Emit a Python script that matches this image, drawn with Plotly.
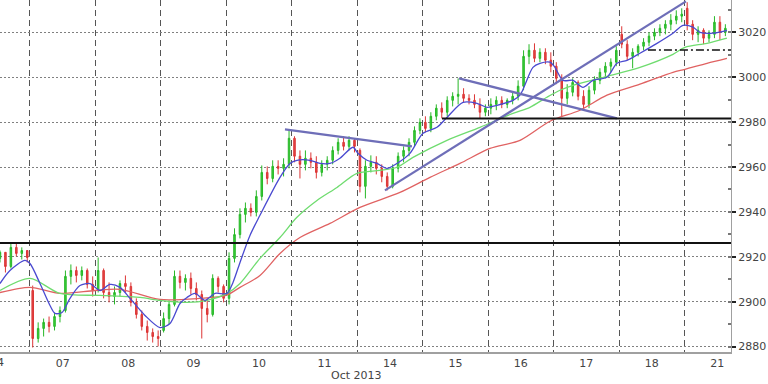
import numpy as np
import plotly.graph_objects as go

# ---------------- data ----------------
days = ["04", "07", "08", "09", "10", "11", "14", "15", "16", "17", "18", "21"]
BARS_PER_DAY = 12
first_bar_offset = 0.5  # first visible bar starts half way through Oct 04

open_ = [2919.3, 2922.0, 2915.7, 2924.2, 2921.5, 2922.8,
 2905.0, 2883.6, 2888.1, 2890.8, 2889.0, 2893.4, 2896.1, 2911.3, 2913.9, 2911.7, 2913.9, 2907.7,
 2905.0, 2913.9, 2904.1, 2902.3, 2904.1, 2908.1, 2906.8, 2899.7, 2894.3, 2889.0, 2886.3, 2884.5,
 2887.2, 2892.5, 2898.8, 2911.3, 2908.6, 2910.4, 2905.9, 2903.2, 2897.0, 2894.3, 2910.4, 2906.8,
 2901.5, 2919.3, 2929.9, 2938.9, 2941.6, 2939.8, 2946.9, 2957.6, 2954.9, 2960.3, 2959.4, 2961.2,
 2972.8, 2964.8, 2961.2, 2963.9, 2962.1, 2957.6, 2961.2, 2963.0, 2967.4, 2971.0, 2969.2, 2971.9,
 2967.4, 2951.4, 2960.3, 2962.1, 2959.4, 2955.8, 2951.4, 2959.4, 2964.8, 2967.4, 2971.0, 2976.3,
 2979.9, 2977.2, 2982.6, 2986.2, 2984.4, 2989.7, 2991.5, 2992.4, 2990.6, 2989.7, 2987.9, 2984.4,
 2986.2, 2987.9, 2989.7, 2987.9, 2989.7, 2991.5, 2996.0, 3009.3, 3012.0, 3008.4, 3011.1, 3007.6,
 3004.9, 2999.5, 2990.6, 2993.3, 2997.7, 2991.5, 2987.9, 2994.2, 2998.6, 3002.2, 3004.9, 3006.7,
 3019.1, 3014.7, 3009.3, 3011.1, 3013.8, 3015.6, 3018.3, 3020.0, 3021.8, 3023.6, 3025.4, 3027.2,
 3030.7, 3023.6, 3019.1, 3020.9, 3017.4, 3019.1, 3024.5, 3020.0]

high = [2922.8, 2921.1, 2926.0, 2926.0, 2924.2, 2922.8,
 2907.2, 2890.8, 2892.5, 2893.4, 2895.2, 2897.9, 2913.9, 2916.6, 2915.7, 2915.7, 2914.8, 2911.3,
 2919.7, 2914.8, 2908.6, 2906.8, 2909.5, 2911.7, 2908.6, 2901.5, 2896.1, 2891.6, 2888.1, 2887.2,
 2895.2, 2900.6, 2913.9, 2913.9, 2912.2, 2913.0, 2908.6, 2905.0, 2901.5, 2912.2, 2911.3, 2907.7,
 2922.0, 2932.7, 2941.6, 2944.2, 2943.8, 2949.6, 2960.7, 2960.3, 2963.0, 2963.0, 2963.9, 2976.3,
 2973.7, 2967.4, 2967.4, 2966.5, 2964.8, 2963.0, 2964.8, 2969.2, 2972.8, 2973.7, 2973.7, 2972.8,
 2968.3, 2963.0, 2965.2, 2964.8, 2961.2, 2957.6, 2961.2, 2966.5, 2969.2, 2972.8, 2978.1, 2981.7,
 2982.6, 2984.4, 2987.9, 2988.8, 2991.5, 2993.3, 2999.5, 2995.1, 2992.4, 2992.4, 2990.6, 2987.9,
 2990.6, 2991.5, 2991.5, 2990.6, 2993.3, 2998.6, 3012.0, 3014.7, 3015.1, 3012.9, 3012.9, 3011.1,
 3006.7, 3001.3, 2996.9, 2999.5, 2998.6, 2994.2, 2996.0, 3000.4, 3004.0, 3006.7, 3008.4, 3013.8,
 3022.7, 3016.5, 3012.9, 3014.7, 3017.4, 3020.0, 3021.8, 3023.6, 3025.4, 3028.1, 3029.8, 3030.7,
 3033.4, 3025.4, 3022.7, 3021.8, 3020.9, 3027.2, 3027.2, 3023.6]

low = [2917.5, 2913.0, 2914.8, 2920.2, 2918.8, 2917.5,
 2879.6, 2881.8, 2884.5, 2886.3, 2887.2, 2890.8, 2895.2, 2907.7, 2908.6, 2909.5, 2905.9, 2902.3,
 2904.1, 2901.5, 2899.7, 2898.8, 2902.3, 2904.1, 2897.9, 2892.5, 2887.2, 2882.7, 2881.8, 2880.1,
 2886.3, 2889.9, 2897.9, 2905.9, 2905.0, 2903.2, 2900.6, 2883.6, 2890.8, 2893.4, 2904.1, 2899.7,
 2898.8, 2917.5, 2928.2, 2935.3, 2938.0, 2938.0, 2945.1, 2952.3, 2953.2, 2956.7, 2955.8, 2959.4,
 2962.1, 2954.9, 2958.5, 2959.4, 2954.9, 2955.8, 2958.5, 2961.2, 2965.6, 2967.4, 2967.4, 2966.5,
 2948.7, 2946.0, 2957.6, 2956.7, 2953.2, 2949.6, 2950.5, 2957.6, 2962.1, 2964.8, 2969.2, 2974.6,
 2975.5, 2975.5, 2980.8, 2981.7, 2982.6, 2987.0, 2987.9, 2988.8, 2987.9, 2986.2, 2981.7, 2982.6,
 2983.5, 2985.3, 2986.2, 2986.2, 2987.9, 2989.7, 2994.2, 3005.8, 3006.7, 3006.7, 3005.8, 3002.2,
 2996.9, 2982.6, 2987.9, 2991.5, 2989.7, 2985.3, 2986.2, 2992.4, 2996.9, 2999.5, 3002.2, 3004.9,
 3012.9, 3007.6, 3004.0, 3009.3, 3012.0, 3013.8, 3016.5, 3018.3, 3019.1, 3020.9, 3023.6, 3024.5,
 3020.9, 3016.5, 3015.6, 3014.7, 3015.6, 3017.4, 3016.5, 3018.3]

close = [2922.0, 2915.7, 2924.2, 2921.5, 2922.8, 2919.7,
 2883.6, 2888.1, 2890.8, 2889.0, 2893.4, 2896.1, 2911.3, 2913.9, 2911.7, 2913.9, 2907.7, 2905.0,
 2913.9, 2904.1, 2902.3, 2904.1, 2908.1, 2906.8, 2899.7, 2894.3, 2889.0, 2886.3, 2884.5, 2883.6,
 2892.5, 2898.8, 2911.3, 2908.6, 2910.4, 2905.9, 2903.2, 2897.0, 2894.3, 2910.4, 2906.8, 2901.5,
 2919.3, 2929.9, 2938.9, 2941.6, 2939.8, 2946.9, 2957.6, 2954.9, 2960.3, 2959.4, 2961.2, 2972.8,
 2964.8, 2961.2, 2963.9, 2962.1, 2957.6, 2961.2, 2963.0, 2967.4, 2971.0, 2969.2, 2971.9, 2969.2,
 2951.4, 2960.3, 2962.1, 2959.4, 2955.8, 2951.4, 2959.4, 2964.8, 2967.4, 2971.0, 2976.3, 2979.9,
 2977.2, 2982.6, 2986.2, 2984.4, 2989.7, 2991.5, 2992.4, 2990.6, 2989.7, 2987.9, 2984.4, 2986.2,
 2987.9, 2989.7, 2987.9, 2989.7, 2991.5, 2996.0, 3009.3, 3012.0, 3008.4, 3011.1, 3007.6, 3004.9,
 2999.5, 2990.6, 2993.3, 2997.7, 2991.5, 2987.9, 2994.2, 2998.6, 3002.2, 3004.9, 3006.7, 3012.0,
 3014.7, 3009.3, 3011.1, 3013.8, 3015.6, 3018.3, 3020.0, 3021.8, 3023.6, 3025.4, 3027.2, 3028.1,
 3023.6, 3019.1, 3020.9, 3017.4, 3019.1, 3024.5, 3020.0, 3021.8]

# moving averages (time in trading-day units, price)
ma_fast_t = [0.542, 0.694, 0.924, 1.0, 1.153, 1.306, 1.382, 1.489, 1.611, 1.764, 1.917, 2.070, 2.222,
             2.375, 2.528, 2.757, 2.986, 3.139, 3.292, 3.399, 3.521, 3.674, 3.827, 4.010, 4.102, 4.209,
             4.361, 4.514, 4.820, 4.972, 5.079, 5.278, 5.431, 5.584, 5.736, 5.935, 6.011, 6.149, 6.302,
             6.455, 6.607, 6.806, 7.005, 7.218, 7.371, 7.616, 7.830, 7.983, 8.135, 8.380, 8.487, 8.685,
             8.792, 8.945, 9.021, 9.144, 9.297, 9.449, 9.602, 9.816, 9.969, 10.122, 10.320, 10.580,
             10.824, 10.977, 11.130, 11.237, 11.436, 11.649]
ma_fast = [2908.1, 2913.9, 2918.4, 2917.0, 2908.1, 2898.3, 2894.8, 2895.2, 2901.5, 2907.2, 2908.1, 2905.0,
           2907.7, 2906.4, 2901.5, 2893.9, 2888.5, 2890.3, 2899.2, 2901.9, 2903.7, 2900.6, 2903.7, 2903.7,
           2908.6, 2917.5, 2929.5, 2938.5, 2955.4, 2961.6, 2963.0, 2963.0, 2961.6, 2961.6, 2963.9, 2968.8,
           2966.1, 2963.0, 2961.6, 2959.4, 2961.6, 2966.1, 2975.0, 2977.7, 2982.1, 2988.8, 2988.4, 2986.6,
           2987.5, 2989.7, 2992.0, 3004.4, 3006.2, 3006.7, 3004.4, 2998.6, 2998.6, 2995.5, 2998.6, 3000.0,
           3006.2, 3007.5, 3010.7, 3015.1, 3019.6, 3023.1, 3022.3, 3020.0, 3019.6, 3020.9]

ma_mid_t = [0.542, 1.0, 1.458, 2.070, 2.681, 2.986, 3.399, 3.704, 4.010, 4.209, 4.514, 4.820, 5.079, 5.385,
            5.691, 5.996, 6.348, 6.607, 6.852, 7.371, 7.875, 8.380, 8.639, 8.899, 9.098, 9.297, 9.816,
            10.320, 10.824, 11.007, 11.344, 11.649]
ma_mid = [2905.0, 2910.4, 2903.7, 2902.8, 2901.9, 2900.6, 2899.7, 2900.6, 2903.7, 2908.1, 2919.3, 2928.6,
          2937.6, 2945.1, 2950.9, 2957.2, 2958.5, 2959.9, 2964.3, 2971.9, 2977.7, 2983.9, 2986.6, 2991.1,
          2994.2, 2996.4, 3000.4, 3004.4, 3010.2, 3013.3, 3015.1, 3017.4]

ma_slow_t = [0.542, 1.0, 1.458, 1.993, 2.375, 2.986, 3.597, 3.995, 4.209, 4.514, 4.820, 5.125, 5.584, 6.042,
             6.653, 7.112, 7.570, 8.028, 8.487, 8.945, 9.403, 9.816, 10.320, 10.824, 11.007, 11.344, 11.649]
ma_slow = [2904.1, 2906.4, 2903.7, 2905.0, 2905.5, 2901.0, 2901.5, 2902.8, 2906.4, 2911.7, 2921.5, 2928.6,
           2934.9, 2942.0, 2948.7, 2955.4, 2961.6, 2968.3, 2971.9, 2980.4, 2985.3, 2992.0, 2996.9, 3002.2,
           3003.5, 3006.2, 3008.4]

# trend lines: (t0, p0, t1, p1)
trend_lines = [(4.896, 2976.8, 6.836, 2969.2),
               (6.424, 2949.6, 11.023, 3033.8),
               (7.555, 2999.5, 9.969, 2981.7)]

# horizontal levels
level_full = 2926.2
level_support = (7.295, 2981.6)
level_dashdot = (10.442, 3012.1)

y_ticks = [2880, 2900, 2920, 2940, 2960, 2980, 3000, 3020]
x_label = "Oct 2013"

# ---------------- figure ----------------
X_MIN, X_MAX = 0.542, 11.711
Y_MIN, Y_MAX = 2877.6, 3034.4

bar_t = first_bar_offset + (np.arange(len(close)) + 0.5) / BARS_PER_DAY

fig = go.Figure()
fig.add_trace(go.Candlestick(
    x=bar_t, open=open_, high=high, low=low, close=close,
    increasing=dict(line=dict(color="#27b827", width=1), fillcolor="#3ccf3c"),
    decreasing=dict(line=dict(color="#dd3535", width=1), fillcolor="#e04848"),
    whiskerwidth=0, showlegend=False, hoverinfo="skip"))

fig.add_trace(go.Scatter(x=ma_slow_t, y=ma_slow, mode="lines",
                         line=dict(color="#e06262", width=1.3, shape="spline", smoothing=0.8),
                         showlegend=False, hoverinfo="skip"))
fig.add_trace(go.Scatter(x=ma_mid_t, y=ma_mid, mode="lines",
                         line=dict(color="#6fdc6f", width=1.3, shape="spline", smoothing=0.8),
                         showlegend=False, hoverinfo="skip"))
fig.add_trace(go.Scatter(x=ma_fast_t, y=ma_fast, mode="lines",
                         line=dict(color="#4a4ad0", width=1.3, shape="spline", smoothing=0.8),
                         showlegend=False, hoverinfo="skip"))

for t0, p0, t1, p1 in trend_lines:
    fig.add_trace(go.Scatter(x=[t0, t1], y=[p0, p1], mode="lines",
                             line=dict(color="#6e6eb8", width=2.2),
                             showlegend=False, hoverinfo="skip"))

fig.add_trace(go.Scatter(x=[X_MIN, X_MAX], y=[level_full, level_full], mode="lines",
                         line=dict(color="#111111", width=2), showlegend=False, hoverinfo="skip"))
fig.add_trace(go.Scatter(x=[level_support[0], X_MAX], y=[level_support[1]] * 2, mode="lines",
                         line=dict(color="#111111", width=2), showlegend=False, hoverinfo="skip"))
fig.add_trace(go.Scatter(x=[level_dashdot[0], X_MAX], y=[level_dashdot[1]] * 2, mode="lines",
                         line=dict(color="#111111", width=1.6, dash="8px,3px,2px,3px"),
                         showlegend=False, hoverinfo="skip"))

FONT = dict(family="DejaVu Sans", size=11, color="#444444")

fig.update_layout(
    width=768, height=384,
    margin=dict(l=0, r=37, t=0, b=32),
    paper_bgcolor="white", plot_bgcolor="white",
    font=FONT,
    boxgap=0.6,
    xaxis=dict(
        range=[X_MIN, X_MAX],
        tickmode="array",
        tickvals=[i + 0.5 for i in range(len(days))],
        ticktext=days,
        showgrid=False, zeroline=False,
        ticks="", ticklen=0,
        showline=True, linecolor="#a0a0a0", linewidth=2,
        rangeslider=dict(visible=False),
        tickfont=FONT,
        minor=dict(tick0=0, dtick=1, showgrid=True, gridcolor="#555555",
                   griddash="6px,4px", gridwidth=1, ticks=""),
    ),
    yaxis=dict(
        side="right",
        range=[Y_MIN, Y_MAX],
        tickmode="array", tickvals=y_ticks,
        showgrid=True, gridcolor="#808080", griddash="2px,2px", gridwidth=1,
        zeroline=False,
        ticks="outside", ticklen=4, tickwidth=2, tickcolor="#222222",
        showline=True, linecolor="#a0a0a0", linewidth=1,
        tickfont=FONT,
        minor=dict(dtick=10, tick0=2880, ticks="inside", ticklen=3, tickcolor="#777777", showgrid=False),
    ),
    annotations=[
        dict(text=x_label, xref="paper", yref="paper", x=356 / 731, y=-0.068,
             xanchor="center", yanchor="middle", showarrow=False, font=FONT),
        # partially cut-off label of the first day at the left edge
        dict(text=days[0], xref="paper", yref="paper", x=(0.5 - X_MIN) / (X_MAX - X_MIN), y=-0.031,
             xanchor="center", yanchor="middle", showarrow=False, font=FONT),
    ],
)

fig.write_html("out.html")
